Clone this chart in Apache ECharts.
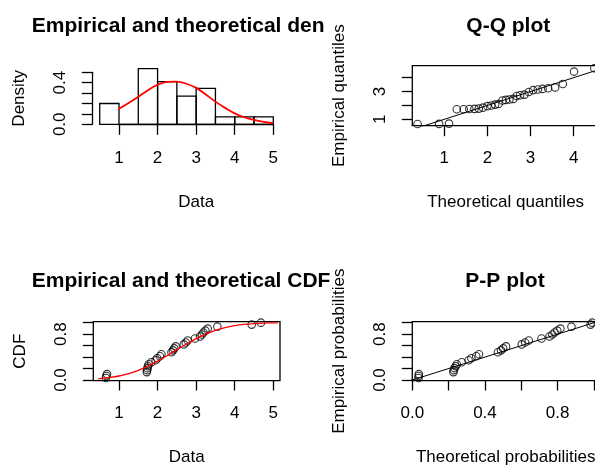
<!DOCTYPE html>
<html>
<head>
<meta charset="utf-8">
<script src="https://cdn.jsdelivr.net/npm/echarts@6/dist/echarts.min.js"></script>
<style>
  html, body { margin: 0; padding: 0; background: #ffffff; }
  #chart { width: 595px; height: 465px; }
</style>
</head>
<body>
<div id="chart"></div>
<script>
// Goodness-of-fit diagnostics for a fitted normal distribution:
// histogram + fitted density, Q-Q plot, empirical vs fitted CDF, P-P plot.

// Histogram (density scale)
const histBreaks  = [0.5, 1.0, 1.5, 2.0, 2.5, 3.0, 3.5, 4.0, 4.5, 5.0];
const histDensity = [0.2, 0, 0.535, 0.41, 0.27, 0.345, 0.072, 0.072, 0.072];

// Fitted density curve
const densCurveX = [0.46, 0.75, 1.0, 1.25, 1.5, 1.75, 2.0, 2.25, 2.5, 2.75, 3.0, 3.25, 3.5, 3.75, 4.0, 4.25, 4.5, 4.75, 5.0];
const densCurveY = [0.058, 0.10, 0.15, 0.205, 0.265, 0.328, 0.38, 0.407, 0.41, 0.39, 0.35, 0.287, 0.218, 0.158, 0.105, 0.068, 0.042, 0.024, 0.012];

// Sorted sample
const sampleSorted = [0.66, 0.67, 0.69, 1.72, 1.73, 1.74, 1.75, 1.77, 1.84, 1.95, 1.99, 2.06, 2.10, 2.36, 2.40, 2.43, 2.47,
                      2.68, 2.73, 2.78, 2.97, 3.10, 3.15, 3.19, 3.24, 3.30, 3.55, 4.44, 4.68];
// Empirical cumulative probabilities of the sorted sample
const empiricalProb = [0.034, 0.069, 0.103, 0.138, 0.172, 0.207, 0.241, 0.276, 0.310, 0.345, 0.379, 0.414, 0.448, 0.483,
                       0.517, 0.552, 0.586, 0.621, 0.655, 0.690, 0.724, 0.759, 0.793, 0.828, 0.862, 0.897, 0.931, 0.966, 1.0];
// Fitted-distribution quantiles paired with the sorted sample
const theoQuantiles = [0.38, 0.88, 1.11, 1.29, 1.45, 1.58, 1.70, 1.80, 1.90, 2.00, 2.09, 2.18, 2.26, 2.35, 2.43, 2.51,
                       2.60, 2.68, 2.76, 2.86, 2.96, 3.06, 3.17, 3.28, 3.41, 3.57, 3.75, 4.01, 4.48];
// Fitted CDF evaluated at the sorted sample
const theoProb = [0.034, 0.035, 0.036, 0.226, 0.229, 0.232, 0.239, 0.245, 0.272, 0.310, 0.325, 0.352, 0.367, 0.471,
                  0.488, 0.500, 0.516, 0.602, 0.621, 0.641, 0.711, 0.755, 0.771, 0.783, 0.798, 0.815, 0.876, 0.981, 0.990];

// Fitted CDF curve
const cdfCurveX = [0.46, 0.75, 1.0, 1.25, 1.5, 1.75, 2.0, 2.25, 2.5, 2.75, 3.0, 3.25, 3.5, 3.75, 4.0, 4.25, 4.5, 4.75, 5.0, 5.12];
const cdfCurveY = [0.021, 0.042, 0.070, 0.112, 0.169, 0.242, 0.329, 0.426, 0.529, 0.629, 0.722, 0.801, 0.865, 0.913,
                   0.947, 0.970, 0.984, 0.992, 0.996, 0.997];

// Reference line y = x
const identityLine = [[-1, -1], [6, 6]];

// Tick positions and printed labels
const dataTicks    = [1, 2, 3, 4, 5];
const densTicks    = [0, 0.1, 0.2, 0.3, 0.4, 0.5];
const densLabels   = [0, 0.4];
const qqTicks      = [1, 2, 3, 4];
const qqYLabels    = [1, 3];
const probTicks    = [0, 0.2, 0.4, 0.6, 0.8, 1.0];
const probYLabels  = [0, 0.8];
const probXLabels  = [0, 0.4, 0.8];

const titles = ['Empirical and theoretical dens.', 'Q-Q plot', 'Empirical and theoretical CDFs', 'P-P plot'];

const FONT = '"Liberation Sans", Arial, sans-serif';
const INK = '#000000';
const LW = 1.3;

const zip = (a, b) => a.map((v, i) => [v, b[i]]);

function xAxisDef(grid, min, max, tickVals, labelVals, name, fmt, extra) {
  return Object.assign({
    type: 'value', gridIndex: grid, min: min, max: max, position: 'bottom',
    name: name, nameLocation: 'middle', nameGap: 68,
    nameTextStyle: { color: INK, fontFamily: FONT, fontSize: 17 },
    axisLine: { show: false, lineStyle: { color: INK, width: LW } },
    axisTick: { show: true, inside: false, length: 10.5, customValues: tickVals, lineStyle: { color: INK, width: LW } },
    axisLabel: { show: true, margin: 24, customValues: labelVals, color: INK, fontFamily: FONT, fontSize: 17,
                 formatter: fmt },
    splitLine: { show: false }
  }, extra || {});
}

function yAxisDef(grid, min, max, tickVals, labelVals, name, fmt, extra) {
  return Object.assign({
    type: 'value', gridIndex: grid, min: min, max: max, position: 'left',
    name: name, nameLocation: 'middle', nameGap: 64, nameRotate: 90,
    nameTextStyle: { color: INK, fontFamily: FONT, fontSize: 17 },
    axisLine: { show: false, lineStyle: { color: INK, width: LW } },
    axisTick: { show: true, inside: false, length: 10.5, customValues: tickVals, lineStyle: { color: INK, width: LW } },
    axisLabel: { show: true, margin: 23, rotate: 90, customValues: labelVals, color: INK, fontFamily: FONT, fontSize: 17,
                 formatter: fmt },
    splitLine: { show: false }
  }, extra || {});
}

const fmtInt = v => String(Math.round(v));
const fmt1 = v => v.toFixed(1);

const boxGrid = (left, top, width, height) => ({
  left: left, top: top, width: width, height: height, show: true,
  borderColor: INK, borderWidth: LW, backgroundColor: 'transparent', outerBoundsMode: 'none'
});

const pointStyle = {
  type: 'scatter', symbol: 'circle', symbolSize: 7.5,
  itemStyle: { color: 'rgba(255,255,255,0)', borderColor: INK, borderWidth: 1.1 },
  silent: true
};

// Titles are clipped at the right edge of their figure cell
const titleStyle = w => ({ color: INK, fontFamily: FONT, fontSize: 21, fontWeight: 'bold',
                          overflow: 'truncate', ellipsis: '', width: w });

const option = {
  animation: false,
  backgroundColor: '#ffffff',
  title: [
    { text: titles[0], left: 31.7, top: 16, textStyle: titleStyle(296), padding: 0 },
    { text: titles[1], left: 466.3, top: 16, textStyle: titleStyle(200), padding: 0 },
    { text: titles[2], left: 31.7, top: 271, textStyle: titleStyle(305), padding: 0 },
    { text: titles[3], left: 465.3, top: 271, textStyle: titleStyle(200), padding: 0 }
  ],
  grid: [
    // histogram: plotting area spans x 1..5, y 0..0.5; axes offset outward like base graphics
    { left: 119, top: 72.3, width: 154.3, height: 52, show: false, outerBoundsMode: 'none' },
    boxGrid(412.3, 65.7, 186.7, 60),
    boxGrid(93.3, 321.7, 186.7, 59),
    boxGrid(412.3, 321.7, 186.7, 59)
  ],
  xAxis: [
    xAxisDef(0, 1, 5, dataTicks, dataTicks, 'Data', fmtInt,
             { offset: 1.4, axisLine: { show: true, lineStyle: { color: INK, width: LW } } }),
    xAxisDef(1, 0.258, 4.589, qqTicks, qqTicks, 'Theoretical quantiles', fmtInt),
    xAxisDef(2, 0.334, 5.174, dataTicks, dataTicks, 'Data', fmtInt),
    xAxisDef(3, 0, 1.0275, probTicks, probXLabels, 'Theoretical probabilities', fmt1)
  ],
  yAxis: [
    yAxisDef(0, 0, 0.5, densTicks, densLabels, 'Density', fmt1,
             { offset: 26.7, axisLine: { show: true, lineStyle: { color: INK, width: LW } } }),
    yAxisDef(1, 0.539, 4.864, qqTicks, qqYLabels, 'Empirical quantiles', fmtInt),
    yAxisDef(2, -0.012, 1.017, probTicks, probYLabels, 'CDF', fmt1),
    yAxisDef(3, -0.012, 1.017, probTicks, probYLabels, 'Empirical probabilities', fmt1)
  ],
  series: [
    {
      type: 'custom', xAxisIndex: 0, yAxisIndex: 0, clip: false, silent: true,
      data: histDensity.map((d, i) => [histBreaks[i], histBreaks[i + 1], d]),
      encode: { x: [0, 1], y: 2 },
      renderItem: function (params, api) {
        const topLeft = api.coord([api.value(0), api.value(2)]);
        const bottomRight = api.coord([api.value(1), 0]);
        return {
          type: 'rect',
          shape: { x: topLeft[0], y: topLeft[1], width: bottomRight[0] - topLeft[0], height: bottomRight[1] - topLeft[1] },
          style: { fill: 'none', stroke: INK, lineWidth: LW }
        };
      }
    },
    {
      type: 'line', xAxisIndex: 0, yAxisIndex: 0, clip: false, silent: true,
      data: zip(densCurveX, densCurveY), smooth: 0.4, showSymbol: false,
      lineStyle: { color: '#ff0000', width: 1.8 }
    },
    {
      type: 'line', xAxisIndex: 1, yAxisIndex: 1, clip: true, silent: true,
      data: identityLine, showSymbol: false, lineStyle: { color: INK, width: 1 }
    },
    Object.assign({ xAxisIndex: 1, yAxisIndex: 1, data: zip(theoQuantiles, sampleSorted) }, pointStyle),
    {
      type: 'line', xAxisIndex: 2, yAxisIndex: 2, clip: true, silent: true,
      data: zip(cdfCurveX, cdfCurveY), smooth: 0.4, showSymbol: false,
      lineStyle: { color: '#ff0000', width: 1.3 }
    },
    Object.assign({ xAxisIndex: 2, yAxisIndex: 2, data: zip(sampleSorted, empiricalProb) }, pointStyle),
    {
      type: 'line', xAxisIndex: 3, yAxisIndex: 3, clip: true, silent: true,
      data: identityLine, showSymbol: false, lineStyle: { color: INK, width: 1 }
    },
    Object.assign({ xAxisIndex: 3, yAxisIndex: 3, data: zip(theoProb, empiricalProb) }, pointStyle)
  ]
};

const chart = echarts.init(document.getElementById('chart'), null, { renderer: 'canvas' });
chart.setOption(option);
</script>
</body>
</html>
